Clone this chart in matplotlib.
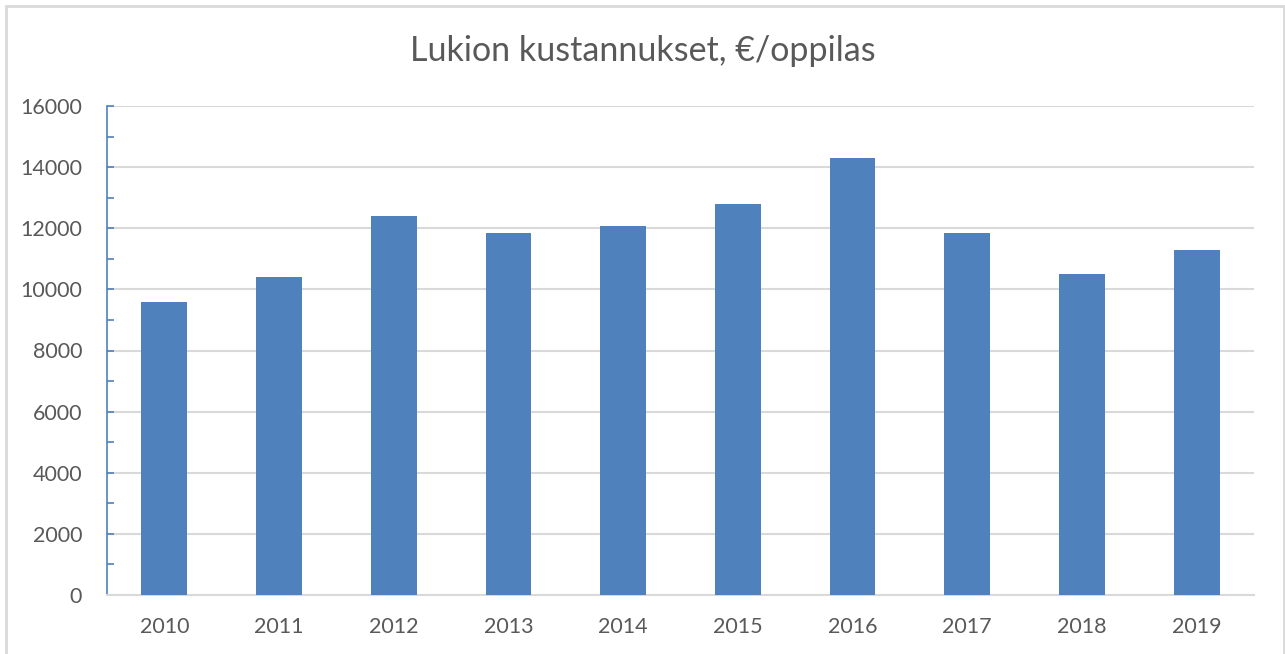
import matplotlib
matplotlib.use("Agg")
import matplotlib.pyplot as plt
from matplotlib.patches import Rectangle
from matplotlib.ticker import MultipleLocator

years = ['2010', '2011', '2012', '2013', '2014', '2015', '2016', '2017', '2018', '2019']
costs = [9590, 10415, 12395, 11855, 12070, 12780, 14305, 11840, 10515, 11285]

plt.rcParams['font.family'] = ['Lato', 'DejaVu Sans']
text_col = '#595959'
bar_col = '#4F81BD'
grid_col = '#D9D9D9'

fig = plt.figure(figsize=(12.85, 6.54), dpi=100)
# outer chart frame
fig.patches.append(Rectangle((6/1285, -0.1), 1278/1285, 1.1 - 6/654, transform=fig.transFigure,
                             fill=False, edgecolor=grid_col, linewidth=2))

ax = fig.add_axes([107/1285, 1 - 595/654, 1147/1285, 489/654])
x = range(len(years))
ax.bar(x, costs, width=0.4, color=bar_col, zorder=3)
ax.set_xlim(-0.5, len(years) - 0.5)
ax.set_ylim(0, 16000)
ax.set_xticks(list(x))
ax.set_xticklabels(years)
ax.yaxis.set_major_locator(MultipleLocator(2000))
ax.yaxis.set_minor_locator(MultipleLocator(1000))
ax.grid(axis='y', color=grid_col, linewidth=1.5, zorder=0)

for s in ['top', 'right']:
    ax.spines[s].set_visible(False)
ax.spines['left'].set_color(bar_col)
ax.spines['left'].set_linewidth(1.2)
ax.spines['bottom'].set_color(grid_col)
ax.spines['bottom'].set_linewidth(1.5)

ax.tick_params(axis='y', which='both', direction='in', length=5, color=bar_col, width=1.2,
               labelsize=15.5, labelcolor=text_col, pad=18)
ax.tick_params(axis='x', length=0, labelsize=15.5, labelcolor=text_col, pad=16)

fig.text(0.5, 1 - 51/654, 'Lukion kustannukset, €/oppilas', ha='center', va='center',
         fontsize=24.5, color=text_col)

fig.savefig('out.png', dpi=100)
